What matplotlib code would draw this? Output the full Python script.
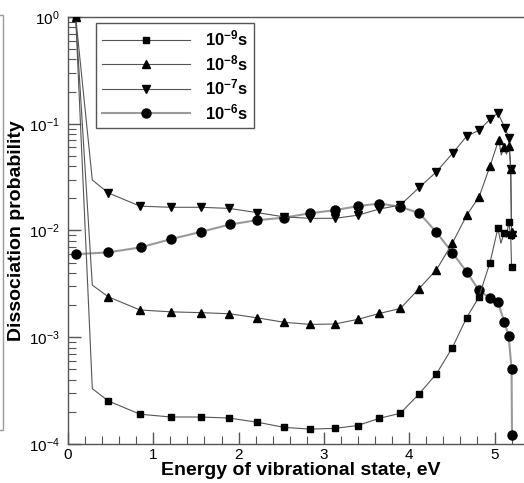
import matplotlib
matplotlib.use('Agg')
import matplotlib.pyplot as plt
from matplotlib.lines import Line2D
from matplotlib.ticker import LogLocator, MultipleLocator, NullFormatter

plt.rcParams['font.family'] = ['Liberation Sans', 'DejaVu Sans']
plt.rcParams['mathtext.fontset'] = 'custom'
plt.rcParams['mathtext.rm'] = 'Liberation Sans'
plt.rcParams['mathtext.it'] = 'Liberation Sans:italic'
plt.rcParams['mathtext.bf'] = 'Liberation Sans:bold'

# Datos
labels = [r'$\mathbf{10^{-9}s}$', r'$\mathbf{10^{-8}s}$',
          r'$\mathbf{10^{-7}s}$', r'$\mathbf{10^{-6}s}$']

x_9 = [0.09, 0.285, 0.473, 0.844, 1.207, 1.556, 1.89, 2.22, 2.536, 2.837,
       3.126, 3.396, 3.65, 3.896, 4.115, 4.32, 4.506, 4.674, 4.815, 4.947,
       5.04, 5.075, 5.11, 5.14, 5.165, 5.19, 5.2]
y_9 = [1.0, 3.3e-4, 2.53e-4, 1.9e-4, 1.79e-4, 1.79e-4, 1.75e-4, 1.6e-4,
       1.43e-4, 1.38e-4, 1.40e-4, 1.49e-4, 1.74e-4, 1.94e-4, 2.94e-4,
       4.55e-4, 8.0e-4, 1.53e-3, 2.36e-3, 5.0e-3, 1.05e-2, 7.6e-3, 9.4e-3,
       8.6e-3, 1.19e-2, 9.1e-3, 4.6e-3]
sin_marca_9 = [1, 21, 23]

x_8 = [0.09, 0.285, 0.473, 0.844, 1.207, 1.556, 1.89, 2.22, 2.536, 2.837,
       3.126, 3.396, 3.65, 3.896, 4.115, 4.32, 4.506, 4.674, 4.82, 4.947,
       5.05, 5.08, 5.11, 5.14, 5.17, 5.19, 5.2]
y_8 = [1.0, 3.08e-3, 2.39e-3, 1.80e-3, 1.73e-3, 1.70e-3, 1.66e-3, 1.52e-3,
       1.38e-3, 1.32e-3, 1.33e-3, 1.47e-3, 1.67e-3, 1.86e-3, 2.85e-3,
       4.3e-3, 7.6e-3, 1.39e-2, 2.07e-2, 4.0e-2, 7.1e-2, 5.1e-2, 6.0e-2,
       5.2e-2, 6.2e-2, 3.8e-2, 9.6e-3]
sin_marca_8 = [1, 21, 23]

x_7 = [0.09, 0.285, 0.473, 0.844, 1.207, 1.556, 1.89, 2.22, 2.536, 2.837,
       3.126, 3.396, 3.65, 3.896, 4.12, 4.32, 4.51, 4.674, 4.82, 4.947,
       5.04, 5.12, 5.17, 5.19, 5.2]
y_7 = [1.0, 2.97e-2, 2.25e-2, 1.69e-2, 1.65e-2, 1.65e-2, 1.61e-2, 1.47e-2,
       1.34e-2, 1.30e-2, 1.30e-2, 1.39e-2, 1.59e-2, 1.73e-2, 2.54e-2,
       3.55e-2, 5.3e-2, 7.65e-2, 8.7e-2, 0.110, 0.126, 9.2e-2, 7.4e-2,
       3.8e-2, 9.0e-3]
sin_marca_7 = [1]

x_6 = [0.094, 0.473, 0.852, 1.207, 1.556, 1.9, 2.22, 2.536, 2.837, 3.126,
       3.396, 3.65, 3.896, 4.12, 4.32, 4.506, 4.674, 4.815, 4.947, 5.04,
       5.115, 5.166, 5.2, 5.205]
y_6 = [6.0e-3, 6.24e-3, 6.95e-3, 8.3e-3, 9.7e-3, 1.14e-2, 1.25e-2, 1.32e-2,
       1.45e-2, 1.55e-2, 1.69e-2, 1.79e-2, 1.67e-2, 1.45e-2, 9.6e-3, 6.2e-3,
       4.1e-3, 2.77e-3, 2.31e-3, 2.12e-3, 1.40e-3, 1.03e-3, 5.0e-4, 1.21e-4]


def marcas(x, omitir):
    return [i for i in range(len(x)) if i not in omitir]


W, H = 524, 483
fig = plt.figure(figsize=(W / 100, H / 100), dpi=100)
# eje: x=0 en 68 px, 85.3 px por unidad; y: 1e0 en 17 px, 1e-4 en 444 px
xmax = 5.46
ax = fig.add_axes([68 / W, (H - 444) / H, xmax * 85.3 / W, 427 / H])

gris = '#555555'
ax.plot(x_6, y_6, color='#9a9a9a', lw=1.5, marker='o', ms=6.5,
        mfc='black', mec='black', label=labels[3], zorder=2)
ax.plot(x_7, y_7, color=gris, lw=0.8, marker='v', ms=6,
        mfc='black', mec='black', markevery=marcas(x_7, sin_marca_7),
        label=labels[2], zorder=3)
ax.plot(x_8, y_8, color=gris, lw=0.8, marker='^', ms=6,
        mfc='black', mec='black', markevery=marcas(x_8, sin_marca_8),
        label=labels[1], zorder=3)
ax.plot(x_9, y_9, color=gris, lw=0.8, marker='s', ms=5,
        mfc='black', mec='black', markevery=marcas(x_9, sin_marca_9),
        label=labels[0], zorder=4)

ax.set_yscale('log')
ax.set_ylim(1e-4, 1)
ax.set_xlim(0, xmax)
ax.yaxis.set_major_locator(LogLocator(base=10, numticks=10))
ax.yaxis.set_minor_locator(LogLocator(base=10, subs=range(2, 10), numticks=10))
ax.yaxis.set_minor_formatter(NullFormatter())
ax.xaxis.set_major_locator(MultipleLocator(1))
ax.xaxis.set_minor_locator(MultipleLocator(0.2))

for lado in ['left', 'top', 'bottom', 'right']:
    ax.spines[lado].set_color(gris)
    ax.spines[lado].set_linewidth(1)
ax.tick_params(which='both', direction='in', colors=gris, labelcolor='black',
               top=False, right=False, labelsize=11)
ax.tick_params(which='major', length=9, width=1)
ax.tick_params(which='minor', length=6, width=0.8)
ax.tick_params(axis='y', pad=6)
ax.tick_params(axis='x', pad=3)

ax.set_xlabel('Energy of vibrational state, eV', fontsize=14, fontweight='bold',
              labelpad=0)
ax.set_ylabel('Dissociation probability', fontsize=14, fontweight='bold',
              labelpad=3)

h, l = ax.get_legend_handles_labels()
leg = ax.legend(h[::-1], l[::-1], loc='upper left',
                bbox_to_anchor=(96 / W, 1 - 23 / H), bbox_transform=fig.transFigure,
                borderaxespad=0, fontsize=12, handlelength=5.3, handletextpad=0.9,
                labelspacing=0.27, borderpad=0.35, fancybox=False, framealpha=1,
                edgecolor=gris)
leg.get_frame().set_linewidth(1)

# borde del panel vecino a la izquierda
fig.add_artist(Line2D([0, 3 / W, 3 / W, 0], [1 - 15 / H, 1 - 15 / H, 1 - 430 / H, 1 - 430 / H],
                      color='#9a9a9a', lw=1, transform=fig.transFigure))

fig.savefig('out.png', dpi=100)
